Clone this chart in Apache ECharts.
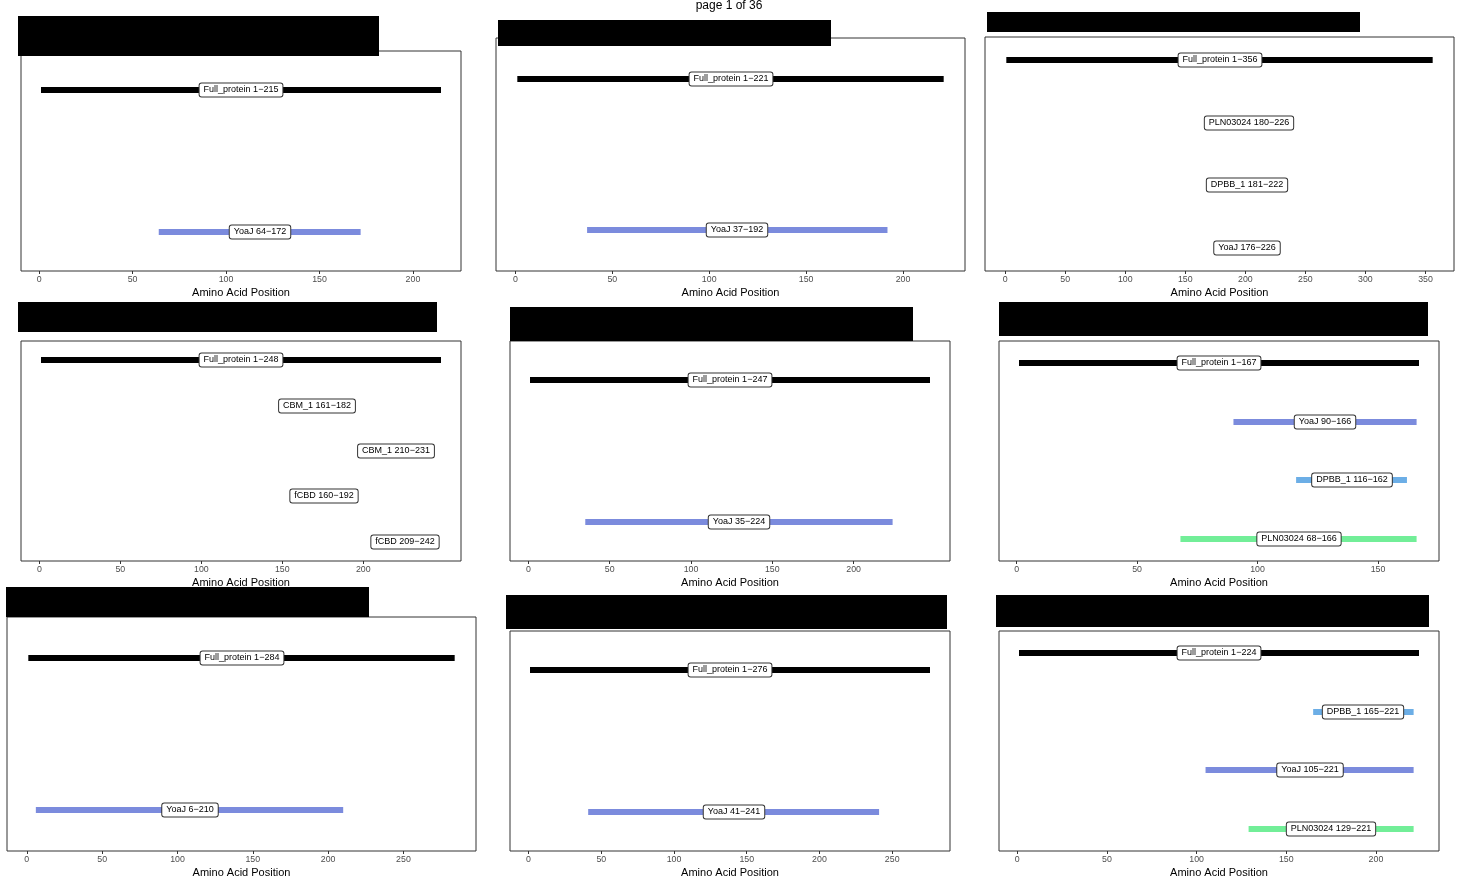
<!DOCTYPE html>
<html><head><meta charset="utf-8">
<script src="https://cdn.jsdelivr.net/npm/echarts@6/dist/echarts.min.js"></script>
<style>html,body{margin:0;padding:0;background:#fff}#c{width:1461px;height:881px}</style>
</head><body><div id="c"></div>
<script>
// ---------- DATA ----------
const p1Names = ['Full_protein', 'YoaJ'];
const p1Start = [1, 64];
const p1End   = [215, 172];
const p1Ticks = [0, 50, 100, 150, 200];

const p2Names = ['Full_protein', 'YoaJ'];
const p2Start = [1, 37];
const p2End   = [221, 192];
const p2Ticks = [0, 50, 100, 150, 200];

const p3Names = ['Full_protein', 'PLN03024', 'DPBB_1', 'YoaJ'];
const p3Start = [1, 180, 181, 176];
const p3End   = [356, 226, 222, 226];
const p3Ticks = [0, 50, 100, 150, 200, 250, 300, 350];

const p4Names = ['Full_protein', 'CBM_1', 'CBM_1', 'fCBD', 'fCBD'];
const p4Start = [1, 161, 210, 160, 209];
const p4End   = [248, 182, 231, 192, 242];
const p4Ticks = [0, 50, 100, 150, 200];

const p5Names = ['Full_protein', 'YoaJ'];
const p5Start = [1, 35];
const p5End   = [247, 224];
const p5Ticks = [0, 50, 100, 150, 200];

const p6Names = ['Full_protein', 'YoaJ', 'DPBB_1', 'PLN03024'];
const p6Start = [1, 90, 116, 68];
const p6End   = [167, 166, 162, 166];
const p6Ticks = [0, 50, 100, 150];

const p7Names = ['Full_protein', 'YoaJ'];
const p7Start = [1, 6];
const p7End   = [284, 210];
const p7Ticks = [0, 50, 100, 150, 200, 250];

const p8Names = ['Full_protein', 'YoaJ'];
const p8Start = [1, 41];
const p8End   = [276, 241];
const p8Ticks = [0, 50, 100, 150, 200, 250];

const p9Names = ['Full_protein', 'DPBB_1', 'YoaJ', 'PLN03024'];
const p9Start = [1, 165, 105, 129];
const p9End   = [224, 221, 221, 221];
const p9Ticks = [0, 50, 100, 150, 200];

const pageTitle = 'page 1 of 36';
const axisTitle = 'Amino Acid Position';

// ---------- STYLE / LAYOUT ----------
const domainColors = {
  'Full_protein': '#000000',
  'YoaJ': '#7B8BDD',
  'DPBB_1': '#6CAEE6',
  'PLN03024': '#72EE98',
  'CBM_1': '#E8A86C',
  'fCBD': '#D78ED6'
};
const FONT = '"Liberation Sans", Arial, sans-serif';

const panelData = [
  [p1Names, p1Start, p1End, p1Ticks],
  [p2Names, p2Start, p2End, p2Ticks],
  [p3Names, p3Start, p3End, p3Ticks],
  [p4Names, p4Start, p4End, p4Ticks],
  [p5Names, p5Start, p5End, p5Ticks],
  [p6Names, p6Start, p6End, p6Ticks],
  [p7Names, p7Start, p7End, p7Ticks],
  [p8Names, p8Start, p8End, p8Ticks],
  [p9Names, p9Start, p9End, p9Ticks]
];
// plot border rect [left, top, right, bottom] and redaction box [x1,y1,x2,y2]
const panelLayout = [
  {g: [21, 51, 461, 271], box: [18, 16, 379, 56]},
  {g: [496, 38, 965, 271], box: [498, 20, 831, 46]},
  {g: [985, 37, 1454, 271], box: [987, 12, 1360, 32]},
  {g: [21, 341, 461, 561], box: [18, 302, 437, 332]},
  {g: [510, 341, 950, 561], box: [510, 307, 913, 341]},
  {g: [999, 341, 1439, 561], box: [999, 302, 1428, 336]},
  {g: [7, 617, 476, 851], box: [6, 587, 369, 617]},
  {g: [510, 631, 950, 851], box: [506, 595, 947, 629]},
  {g: [999, 631, 1439, 851], box: [996, 595, 1429, 627]}
];

const grids = [], xAxes = [], yAxes = [], series = [], graphics = [];

panelData.forEach((pd, i) => {
  const [names, starts, ends, ticks] = pd;
  const L = panelLayout[i];
  const n = names.length;
  const lo = Math.min(...starts), hi = Math.max(...ends);
  const ex = 0.05 * (hi - lo);
  const pad = 0.22 + 0.05 * (n - 1);

  grids.push({
    left: L.g[0], top: L.g[1], width: L.g[2] - L.g[0], height: L.g[3] - L.g[1],
    show: true, borderColor: '#333', borderWidth: 1, backgroundColor: 'transparent',
    containLabel: false
  });
  xAxes.push({
    type: 'value', gridIndex: i, min: lo - ex, max: hi + ex,
    splitLine: {show: false},
    axisLine: {show: false, onZero: false},
    axisTick: {show: true, customValues: ticks, length: 3, lineStyle: {color: '#333', width: 1}},
    axisLabel: {customValues: ticks, fontSize: 8.8, color: '#4D4D4D', margin: 4, fontFamily: FONT},
    name: axisTitle, nameLocation: 'middle', nameGap: 16,
    nameTextStyle: {fontSize: 11, color: '#000', fontFamily: FONT}
  });
  yAxes.push({
    type: 'value', gridIndex: i, min: -pad, max: n - 1 + pad, inverse: true,
    show: false, splitLine: {show: false},
    axisLine: {show: false, onZero: false}, axisTick: {show: false}, axisLabel: {show: false}
  });

  const data = names.map((nm, k) => [starts[k], ends[k], k]);

  series.push({
    type: 'custom', xAxisIndex: i, yAxisIndex: i, z: 2, silent: true,
    encode: {x: [0, 1], y: 2},
    data: data,
    renderItem: (params, api) => {
      const s = api.value(0), e = api.value(1), r = api.value(2);
      const a = api.coord([s, r]), b = api.coord([e, r]);
      const yc = Math.round(a[1]);
      return {
        type: 'line',
        shape: {x1: a[0], y1: yc, x2: b[0], y2: yc},
        style: {stroke: domainColors[names[params.dataIndex]] || '#888', lineWidth: 6, lineCap: 'butt'}
      };
    }
  });
  series.push({
    type: 'custom', xAxisIndex: i, yAxisIndex: i, z: 3, silent: true,
    encode: {x: [0, 1], y: 2},
    data: data,
    renderItem: (params, api) => {
      const s = api.value(0), e = api.value(1), r = api.value(2);
      const m = api.coord([(s + e) / 2, r]);
      return {
        type: 'text', x: Math.round(m[0]), y: Math.round(m[1]),
        style: {
          text: names[params.dataIndex] + ' ' + s + '\u2212' + e,
          align: 'center', verticalAlign: 'middle',
          fill: '#000', fontSize: 9, fontFamily: FONT, lineHeight: 10,
          backgroundColor: '#fff', borderColor: '#333', borderWidth: 1,
          borderRadius: 2, padding: [2, 4, 1, 4]
        }
      };
    }
  });

  graphics.push({
    type: 'rect', z: 100,
    shape: {x: L.box[0], y: L.box[1], width: L.box[2] - L.box[0], height: L.box[3] - L.box[1]},
    style: {fill: '#000'}
  });
});

graphics.push({
  type: 'text', x: 729, y: 6, z: 101,
  style: {text: pageTitle, align: 'center', verticalAlign: 'middle', fontSize: 12, fill: '#000', fontFamily: FONT}
});

const chart = echarts.init(document.getElementById('c'), null, {renderer: 'canvas'});
chart.setOption({
  animation: false,
  backgroundColor: '#fff',
  grid: grids, xAxis: xAxes, yAxis: yAxes, series: series, graphic: graphics
});
</script></body></html>
